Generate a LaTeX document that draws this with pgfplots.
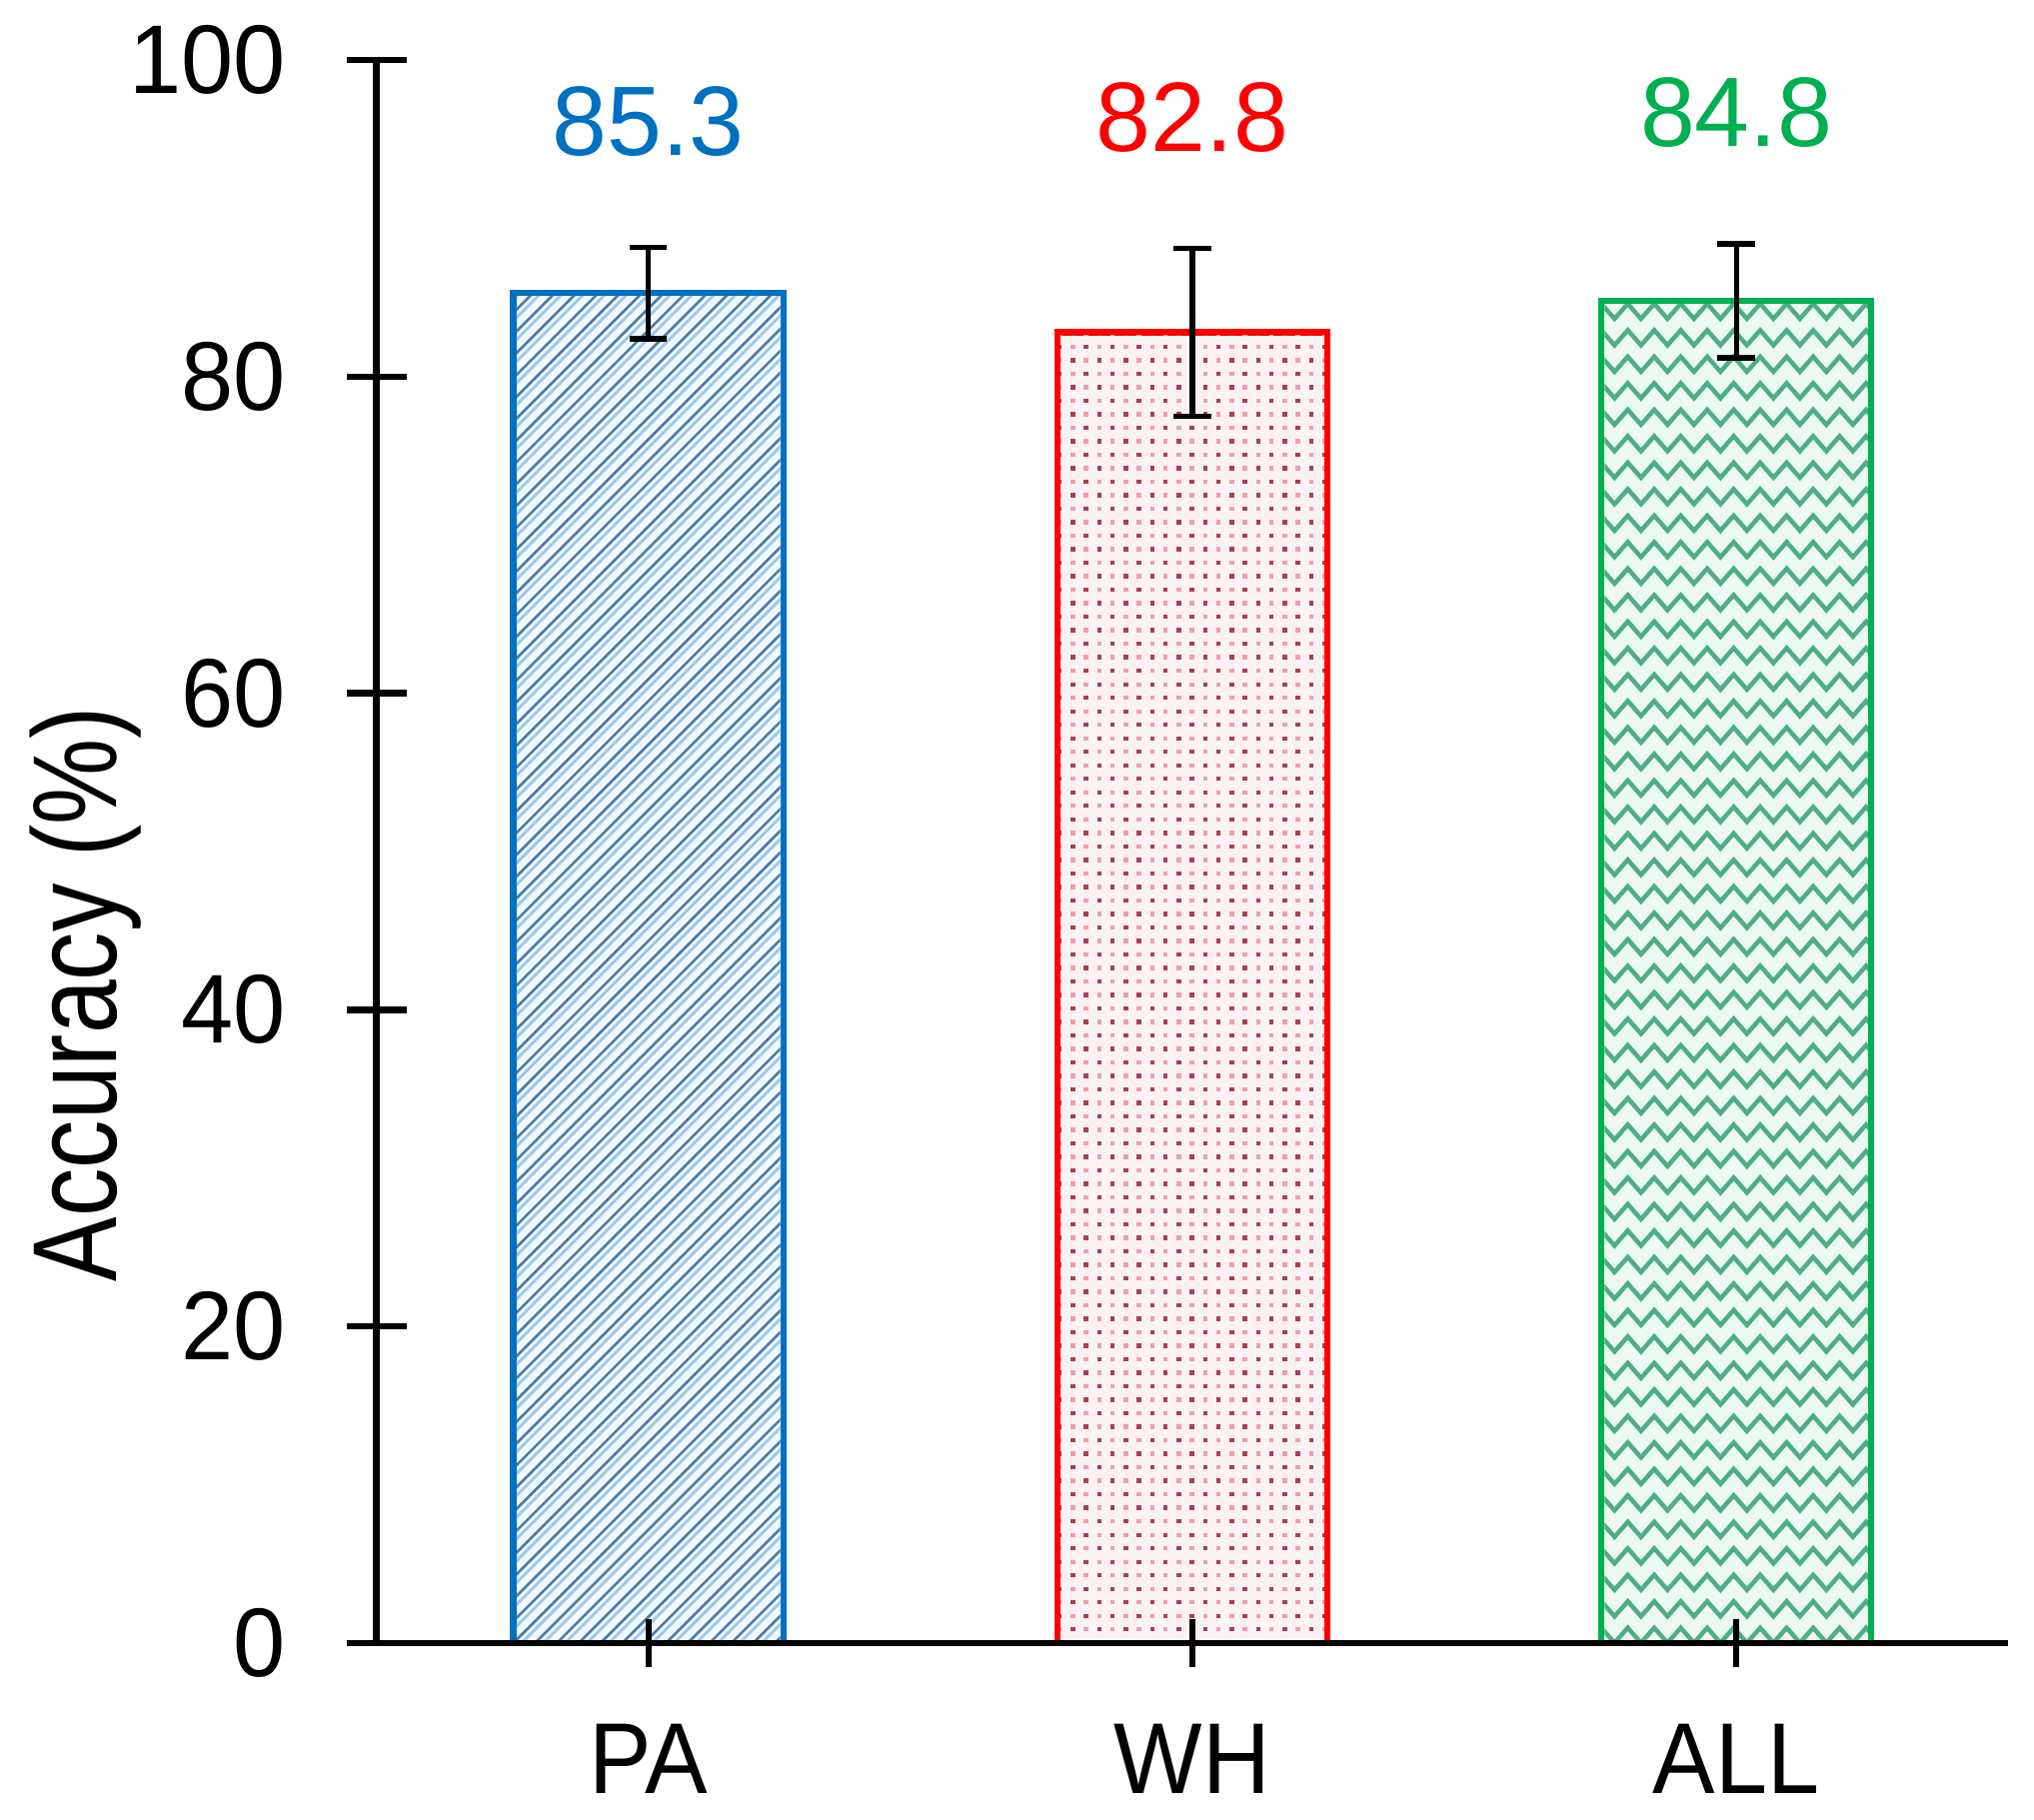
\documentclass[border=0pt]{standalone}
\usepackage{fontspec}
\setmainfont{Liberation Sans}
\usepackage{graphicx}
\usepackage{pgfplots}
\pgfplotsset{compat=1.18}

\definecolor{cblue}{HTML}{0070C0}
\definecolor{cred}{HTML}{FF0000}
\definecolor{cgreen}{HTML}{00B050}
\definecolor{bluedark}{HTML}{4A7BAA}
\definecolor{bluelight}{HTML}{9CC8EE}
\definecolor{bluebg}{HTML}{F2F9FE}
\definecolor{reddot}{HTML}{A8404E}
\definecolor{redlight}{HTML}{EBA0AA}
\definecolor{redbg}{HTML}{FDF2F3}
\definecolor{greenline}{HTML}{4DAE82}
\definecolor{greenbg}{HTML}{ECF9F2}

% texture inside a bar: #1 bar centre, #2 bar value, #3 drawing code (in pt, origin at bar's lower left)
\newcommand{\bartexture}[3]{%
  \pgfplotsextra{%
  \begin{scope}
    \clip ([xshift=0.625pt]axis cs:#1-0.2482,0) rectangle ([xshift=-0.625pt,yshift=-0.625pt]axis cs:#1+0.2482,#2);
    \begin{scope}[shift={(axis cs:#1-0.2482,0)}]
      #3
    \end{scope}
  \end{scope}}}

\newcommand{\bluehatch}{%
  \foreach \i in {-70,...,15} \draw[bluedark, line width=0.5pt] (\i*4.2pt,0pt) -- ++(300pt,300pt);
  \foreach \i in {-70,...,15} \draw[bluelight, line width=0.55pt] (\i*4.2pt+1.6pt,0pt) -- ++(300pt,300pt);}
\newcommand{\reddots}{%
  \foreach \j in {0,...,102} {
    \pgfmathsetmacro\pha{mod(\j,2)*2.55}
    \pgfmathsetmacro\phb{mod(\j,2)*2.55+2.55}
    \draw[reddot, line width=0.85pt, dash pattern=on 0.85pt off 4.25pt, dash phase=\pha pt] (0pt,\j*2.6pt) -- (60pt,\j*2.6pt);
    \draw[redlight, line width=0.85pt, dash pattern=on 0.85pt off 4.25pt, dash phase=\phb pt] (0pt,\j*2.6pt) -- (60pt,\j*2.6pt);
  }}
\newcommand{\greenzig}{%
  \foreach \j in {0,...,53} \draw[greenline, line width=0.85pt] (-2.55pt,\j*5.1pt) \foreach \k in {0,...,11}{ -- ++(2.55pt,2.9pt) -- ++(2.55pt,-2.9pt)};}

\begin{document}
\begin{tikzpicture}
\useasboundingbox (-72.5pt,-34.1pt) rectangle (319.2pt,316.4pt);
\begin{axis}[
  scale only axis,
  width=314.25pt, height=304.8pt,
  xmin=-0.5, xmax=2.5, ymin=0, ymax=100,
  enlargelimits=false,
  axis lines=left,
  axis line style={-, line width=1.25pt, black},
  x axis line style={shorten <=-5.15pt},
  axis on top,
  tick align=center,
  tick style={black, line width=1.25pt},
  xtick={0,1,2},
  xticklabels={\scalebox{0.93}[1]{PA},\scalebox{0.93}[1]{WH},\scalebox{0.93}[1]{ALL}},
  ytick={0,20,40,60,80,100},
  yticklabels={\scalebox{0.96}[1]{0},\scalebox{0.96}[1]{20},\scalebox{0.96}[1]{40},\scalebox{0.96}[1]{60},\scalebox{0.96}[1]{80},\scalebox{0.96}[1]{100}},
  xtick style={/pgfplots/major tick length=9.25pt},
  ytick style={/pgfplots/major tick length=11.5pt},
  xticklabel style={font=\fontsize{19.4}{21}\selectfont, anchor=base, inner sep=0pt, yshift=-26.85pt},
  yticklabel style={font=\fontsize{18.8}{20}\selectfont, anchor=east, inner sep=0pt, xshift=-15.15pt},
  ylabel={\scalebox{0.81}[1]{Accuracy (\%)}},
  ylabel style={font=\fontsize{23}{25}\selectfont, at={(rel axis cs:-0.1596,0.410)}, anchor=base, inner sep=0pt},
]
% bars
\addplot[ybar, bar width=52pt, bar shift=0pt, draw=cblue, line width=1.25pt, fill=bluebg]
  coordinates {(0,85.3)};
\addplot[ybar, bar width=52pt, bar shift=0pt, draw=cred, line width=1.25pt, fill=redbg]
  coordinates {(1,82.8)};
\addplot[ybar, bar width=52pt, bar shift=0pt, draw=cgreen, line width=1.25pt, fill=greenbg]
  coordinates {(2,84.8)};
% fill textures of the bars
\bartexture{0}{85.3}{\bluehatch}
\bartexture{1}{82.8}{\reddots}
\bartexture{2}{84.8}{\greenzig}
% error bars
\addplot[draw=none, mark=none, forget plot,
  error bars/.cd, y dir=both, y explicit,
  error bar style={draw=black, line width=1pt, solid},
  error mark options={rotate=90, mark size=3.6pt, line width=1pt, draw=black}]
  coordinates {(0,85.3) +- (0,2.9) (1,82.8) +- (0,5.3) (2,84.8) +- (0,3.6)};
% value labels
\node[font=\fontsize{19}{21}\selectfont, text=cblue, inner sep=0pt, anchor=center] at (axis cs:0,96.1) {85.3};
\node[font=\fontsize{19}{21}\selectfont, text=cred, inner sep=0pt, anchor=center] at (axis cs:1,96.4) {82.8};
\node[font=\fontsize{19}{21}\selectfont, text=cgreen, inner sep=0pt, anchor=center] at (axis cs:2,96.7) {84.8};
\end{axis}
\end{tikzpicture}
\end{document}
